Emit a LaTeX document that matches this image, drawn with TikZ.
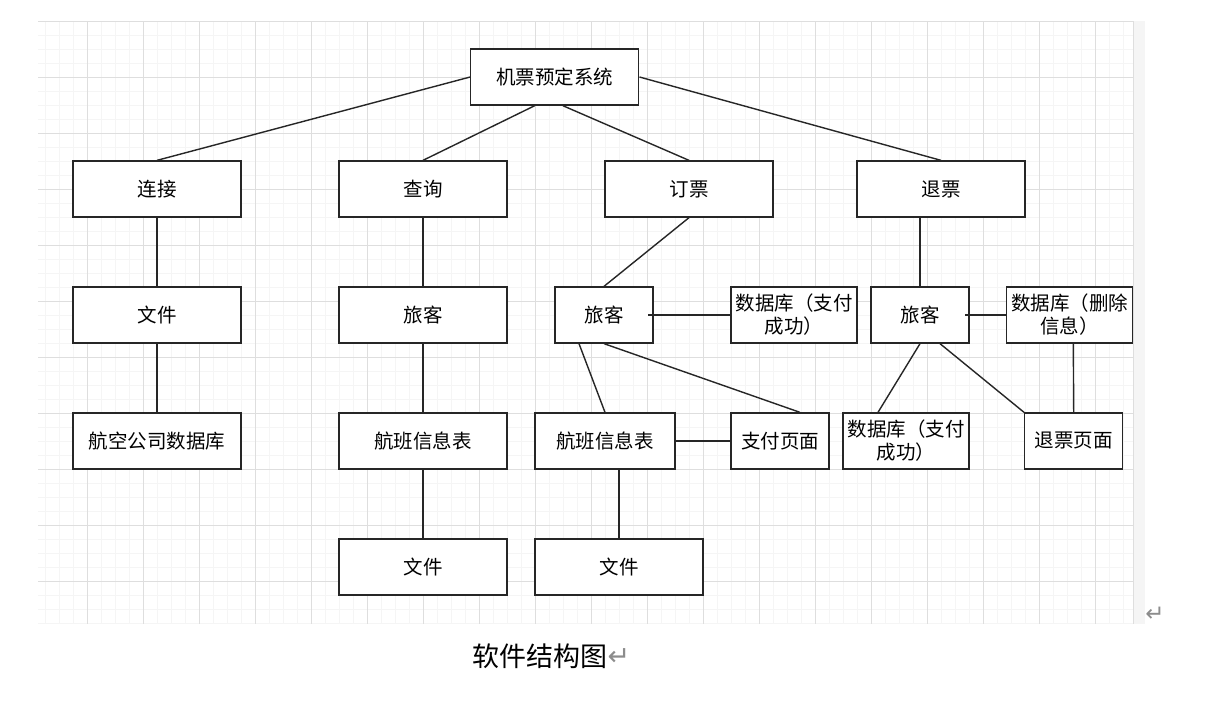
\documentclass[tikz,border=0pt]{standalone}
\usepackage{fontspec}
\setmainfont{Noto Sans CJK SC}
\newfontfamily\cjk{Noto Sans CJK SC}
\newfontfamily\symf{DejaVu Sans}
\begin{document}
\begin{tikzpicture}[x=1pt,y=-1pt,
  box/.style={draw=black!85,line width=1.3pt,fill=white,inner sep=0pt,
    font=\cjk\fontsize{19.5}{23}\selectfont,align=center},
  link/.style={draw=black!85,line width=1.4pt},
  minor/.style={draw=black!4,line width=0.9pt},
  major/.style={draw=black!13,line width=1pt}]
\useasboundingbox (0,0) rectangle (1217,707);
\fill[white] (0,0) rectangle (1217,707);
% side strip
\fill[black!4] (1133,21) rectangle (1145,624);
% grid
\begin{scope}
\clip (38,21) rectangle (1134,624);
\foreach \i in {0,...,78} {\draw[minor] ({45.7+14*\i},21) -- ({45.7+14*\i},624);}
\foreach \i in {0,...,43} {\draw[minor] (38,{21.3+14*\i}) -- (1134,{21.3+14*\i});}
\foreach \i in {0,...,19} {\draw[major] ({87.7+56*\i},21) -- ({87.7+56*\i},624);}
\foreach \i in {0,...,10} {\draw[major] (38,{21.3+56*\i}) -- (1134,{21.3+56*\i});}
\end{scope}
\draw[major] (1133,21) -- (1133,624);
% nodes
\node[box,minimum width=168,minimum height=56] (root) at (554.8,77) {机票预定系统};
\node[box,minimum width=168,minimum height=56] (lj) at (157,189) {连接};
\node[box,minimum width=168,minimum height=56] (cx) at (423,189) {查询};
\node[box,minimum width=168,minimum height=56] (dp) at (689,189) {订票};
\node[box,minimum width=168,minimum height=56] (tp) at (941,189) {退票};
\node[box,minimum width=168,minimum height=56] (wj1) at (157,315) {文件};
\node[box,minimum width=168,minimum height=56] (lk2) at (423,315) {旅客};
\node[box,minimum width=98,minimum height=56] (lk3) at (604,315) {旅客};
\node[box,minimum width=126,minimum height=56] (sj3) at (794,315) {数据库（支付\\成功）};
\node[box,minimum width=98,minimum height=56] (lk4) at (920,315) {旅客};
\node[box,minimum width=126,minimum height=56] (sj4) at (1069.7,315) {数据库（删除\\信息）};
\node[box,minimum width=168,minimum height=56] (hk) at (157,441) {航空公司数据库};
\node[box,minimum width=168,minimum height=56] (hb2) at (423,441) {航班信息表};
\node[box,minimum width=140,minimum height=56] (hb3) at (605,441) {航班信息表};
\node[box,minimum width=98,minimum height=56] (zf) at (780,441) {支付页面};
\node[box,minimum width=126,minimum height=56] (sj5) at (906,441) {数据库（支付\\成功）};
\node[box,minimum width=98,minimum height=56] (tpy) at (1073.7,441) {退票页面};
\node[box,minimum width=168,minimum height=56] (wj2) at (423,567) {文件};
\node[box,minimum width=168,minimum height=56] (wj3) at (619,567) {文件};
% free ends inside boxes
\coordinate (lk3r) at (648,315);
\coordinate (lk4r) at (965,315);
% connectors
\draw[link] (root.west) -- (lj.north);
\draw[link] (root.south) ++(-20,0) coordinate (rs1) -- (cx.north);
\draw[link] (root.south) ++(8,0) coordinate (rs2) -- (dp.north);
\draw[link] (root.east) -- (tp.north);
\draw[link] (lj.south) -- (wj1.north);
\draw[link] (wj1.south) -- (hk.north);
\draw[link] (cx.south) -- (lk2.north);
\draw[link] (lk2.south) -- (hb2.north);
\draw[link] (hb2.south) -- (wj2.north);
\draw[link] (dp.south) -- (lk3.north);
\draw[link] (lk3r) -- (sj3.west);
\draw[link] ([xshift=-25]lk3.south) -- (hb3.north);
\draw[link] (lk3.south) -- ([xshift=20]zf.north);
\draw[link] (hb3.east) -- (zf.west);
\draw[link] (wj3.north) -- (wj3.north |- hb3.south);
\draw[link] (tp.south -| lk4.north) -- (lk4.north);
\draw[link] (lk4r) -- (sj4.west);
\draw[link] (lk4.south) -- ([xshift=-28]sj5.north);
\draw[link] ([xshift=20]lk4.south) -- (tpy.north west);
\draw[link] ([xshift=3.6]sj4.south) -- ([xshift=0]tpy.north);
% caption
\node[font=\cjk\fontsize{27}{30}\selectfont,anchor=west,inner sep=0pt] (cap) at (472,656) {软件结构图};
\node[font=\symf\fontsize{27}{30}\selectfont,text=black!45,anchor=west,inner sep=0pt] (ret1) at ([yshift=-1]cap.east) {↵};
\node[font=\symf\fontsize{23}{26}\selectfont,text=black!45,inner sep=0pt] (ret2) at (1155,614) {↵};
\end{tikzpicture}
\end{document}
